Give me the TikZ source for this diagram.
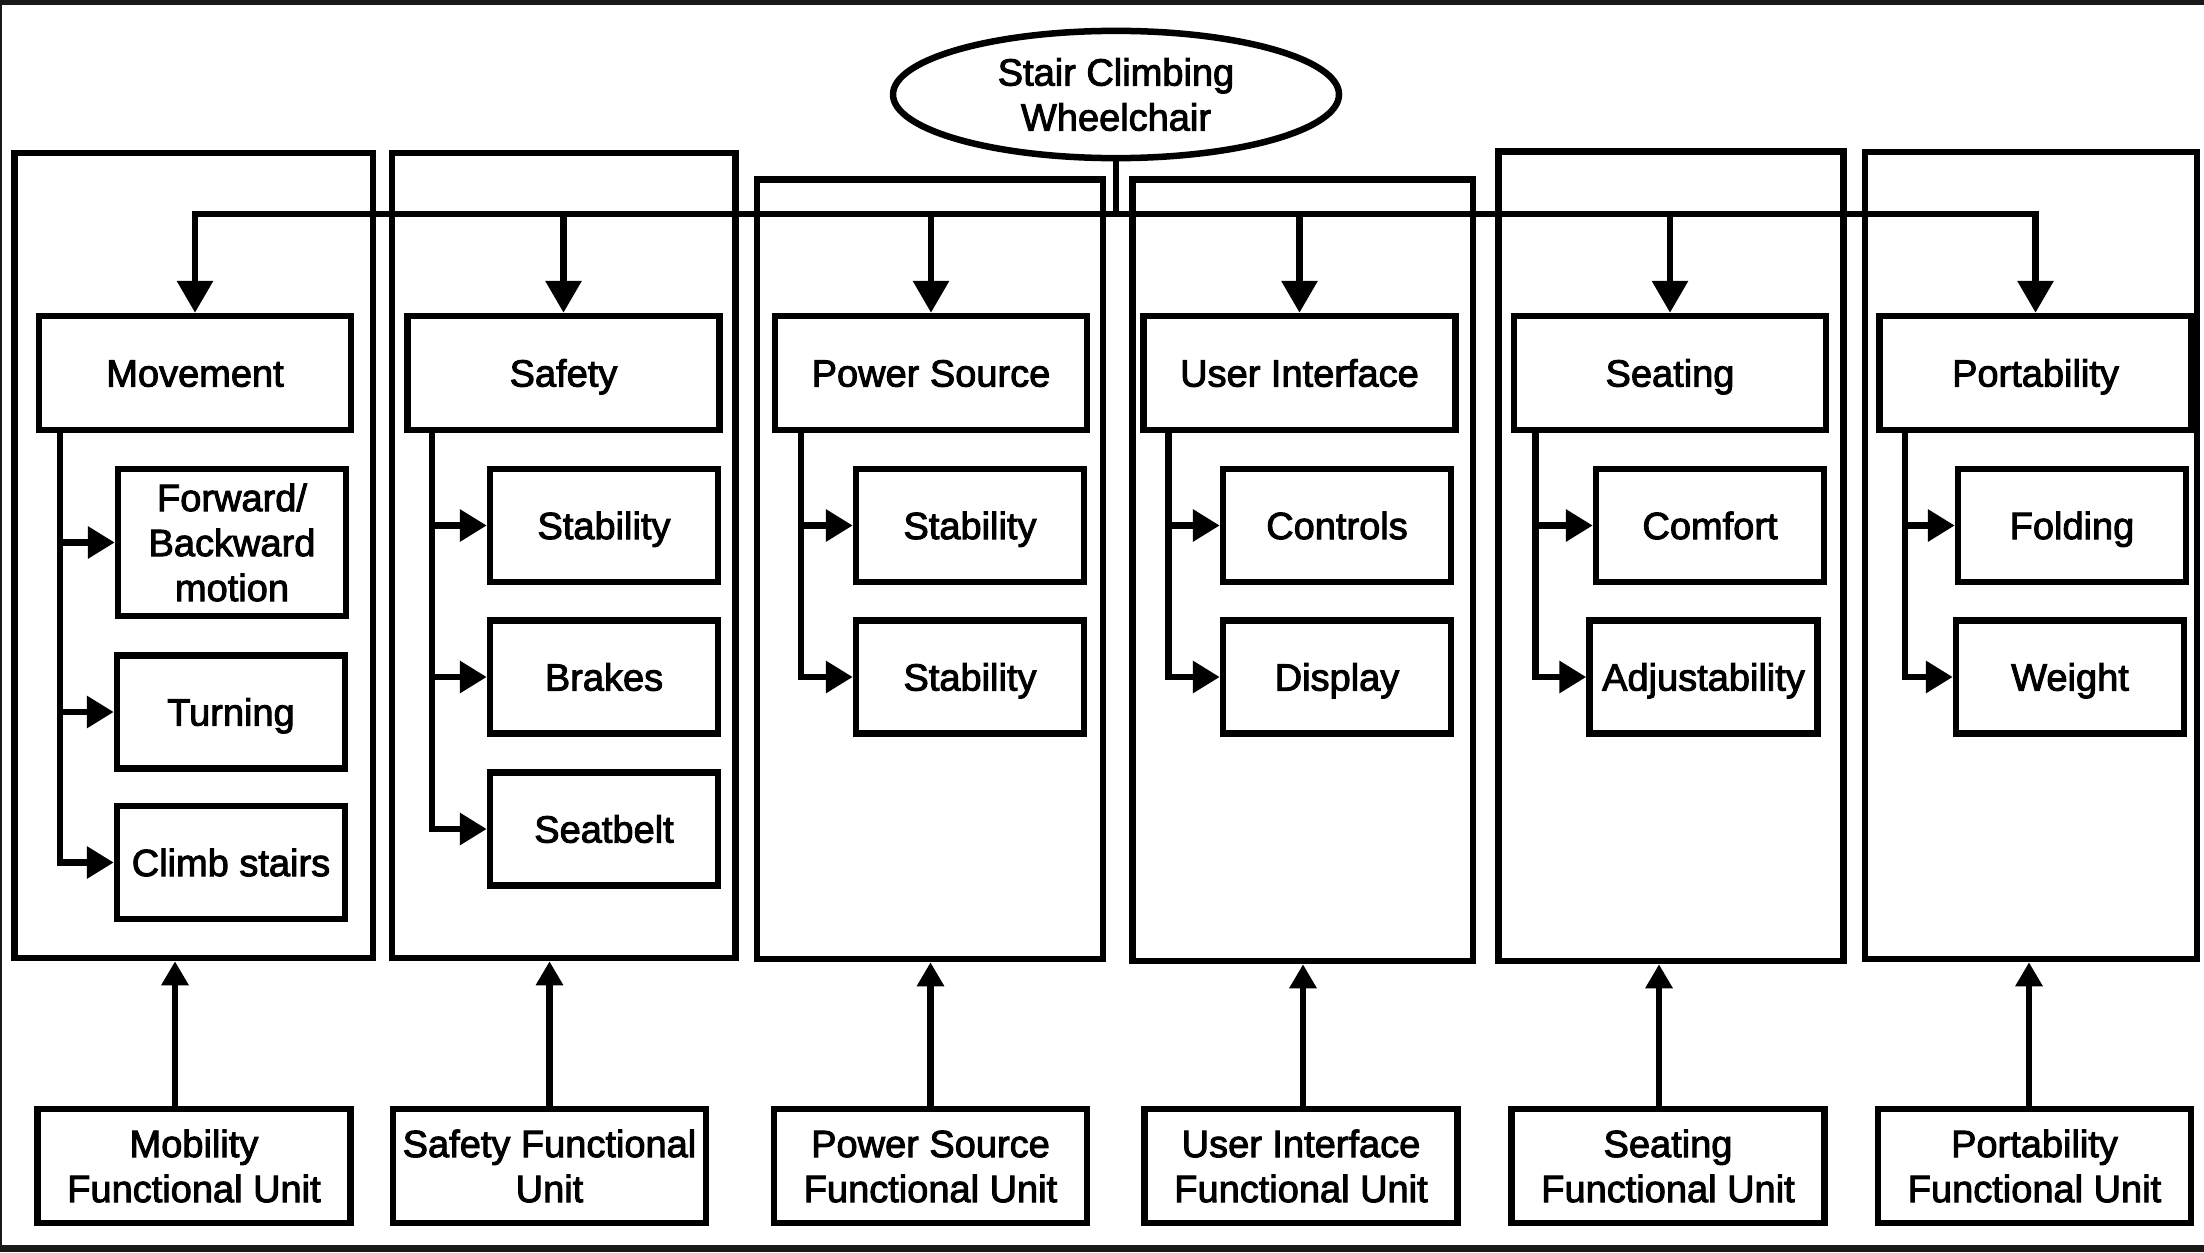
\documentclass[tikz,border=0pt]{standalone}
\usepackage{fontspec}
\setmainfont{Liberation Sans}
\newfontfamily\labfont{Liberation Sans}[BoldFont={Liberation Sans}, BoldFeatures={FakeBold=2.5}]
\usetikzlibrary{arrows.meta,shapes.geometric}
\newcommand\mystrutx{\rule[-4.45pt]{0pt}{22.5pt}}
\begin{document}
\begin{tikzpicture}[x=0.5pt,y=-0.5pt,
  lw/.style={line width=3.25pt},
  txt/.style={align=center, inner sep=0pt, font=\labfont\bfseries\fontsize{19}{22.5}\selectfont,
    execute at begin node=\mystrutx, execute at end node=\mystrutx},
  box/.style={draw, lw, txt},
  hdr/.style={box, minimum width=156pt, minimum height=57pt},
  sub/.style={box, minimum width=114pt, minimum height=56.5pt},
  fu/.style={box, minimum width=156.5pt, minimum height=57pt},
  cont/.style={draw, lw, inner sep=0pt},
  topar/.style={lw, -{Triangle[length=16pt,width=17.5pt]}},
  brar/.style={lw, -{Triangle[length=13.5pt,width=15.5pt]}},
  upar/.style={lw, -{Triangle[length=12pt,width=13pt]}},
  edge/.style={fill=black!90, draw=none}
]
\useasboundingbox (0,0) rectangle (2204,1252);
\fill[white] (0,0) rectangle (2204,1252);
% outer frame
\fill[edge] (0,0) rectangle (2204,5.5);
\fill[edge] (0,1245) rectangle (2204,1252);
\fill[edge] (0,0) rectangle (1.5,1252);

% containers
\node[cont, minimum width=179.25pt, minimum height=402.5pt] (c1) at (193.75,555.5) {};
\node[cont, minimum width=171.75pt, minimum height=402.5pt] (c2) at (563.75,555.5) {};
\node[cont, minimum width=173pt, minimum height=389.75pt] (c3) at (930,569.25) {};
\node[cont, minimum width=170.25pt, minimum height=390.75pt] (c4) at (1302.75,570.25) {};
\node[cont, minimum width=172.5pt, minimum height=404.75pt] (c5) at (1671,556.25) {};
\node[cont, minimum width=166pt, minimum height=403.5pt] (c6) at (2031,555.5) {};

% root
\node[draw, lw, ellipse, minimum width=223pt, minimum height=56pt, txt] (root) at (1116,94.5) {\mystrutx Stair Climbing\\Wheelchair};

% headers
\node[hdr] (h1) at (195,373) {Movement};
\node[hdr] (h2) at (563.5,373) {Safety};
\node[hdr] (h3) at (931,373) {Power Source};
\node[hdr] (h4) at (1299.5,373) {User Interface};
\node[hdr] (h5) at (1670,373) {Seating};
\node[hdr] (h6) at (2035.5,373) {Portability};

% sub boxes
\node[sub, minimum height=73.5pt] (s11) at (232,542.5) {\mystrutx Forward/\\Backward\\motion};
\node[sub] (s12) at (231,712) {Turning};
\node[sub] (s13) at (231,862.5) {Climb stairs};
\node[sub] (s21) at (604,525.5) {Stability};
\node[sub] (s22) at (604,677) {Brakes};
\node[sub] (s23) at (604,829) {Seatbelt};
\node[sub] (s31) at (970,525.5) {Stability};
\node[sub] (s32) at (970,677) {Stability};
\node[sub] (s41) at (1337,525.5) {Controls};
\node[sub] (s42) at (1337,677) {Display};
\node[sub] (s51) at (1710,525.5) {Comfort};
\node[sub] (s52) at (1703.5,677) {Adjustability};
\node[sub] (s61) at (2072,525.5) {Folding};
\node[sub] (s62) at (2070,677) {Weight};

% functional units
\node[fu] (f1) at (194,1166) {\mystrutx Mobility\\Functional Unit};
\node[fu] (f2) at (549.5,1166) {\mystrutx Safety Functional\\Unit};
\node[fu] (f3) at (930.5,1166) {\mystrutx Power Source\\Functional Unit};
\node[fu] (f4) at (1301,1166) {\mystrutx User Interface\\Functional Unit};
\node[fu] (f5) at (1668,1166) {\mystrutx Seating\\Functional Unit};
\node[fu] (f6) at (2034.5,1166) {\mystrutx Portability\\Functional Unit};

% bus from root
\coordinate (bus) at (1117,214);
\draw[lw] (root.south) -- (root.south |- bus);
\draw[lw, {Triangle[length=16pt,width=17.5pt]}-{Triangle[length=16pt,width=17.5pt]}]
  (h1.north) -- (h1.north |- bus) -- (h6.north |- bus) -- (h6.north);
\foreach \h in {h2,h3,h4,h5} \draw[topar] (\h.north |- bus) -- (\h.north);

% trunks
\coordinate (t1) at (60,0);
\coordinate (t2) at (432,0);
\coordinate (t3) at (801,0);
\coordinate (t4) at (1168.5,0);
\coordinate (t5) at (1535.5,0);
\coordinate (t6) at (1905,0);

\draw[brar] (h1.south -| t1) |- (s13.west);
\draw[brar] (t1 |- s11.west) -- (s11.west);
\draw[brar] (t1 |- s12.west) -- (s12.west);

\draw[brar] (h2.south -| t2) |- (s23.west);
\draw[brar] (t2 |- s21.west) -- (s21.west);
\draw[brar] (t2 |- s22.west) -- (s22.west);

\draw[brar] (h3.south -| t3) |- (s32.west);
\draw[brar] (t3 |- s31.west) -- (s31.west);

\draw[brar] (h4.south -| t4) |- (s42.west);
\draw[brar] (t4 |- s41.west) -- (s41.west);

\draw[brar] (h5.south -| t5) |- (s52.west);
\draw[brar] (t5 |- s51.west) -- (s51.west);

\draw[brar] (h6.south -| t6) |- (s62.west);
\draw[brar] (t6 |- s61.west) -- (s61.west);

% up arrows from functional units
\draw[upar] ([xshift=-9.5pt]f1.north) -- ([xshift=-9.5pt]f1.north |- c1.south);
\draw[upar] (f2.north) -- (f2.north |- c2.south);
\draw[upar] (f3.north) -- (f3.north |- c3.south);
\draw[upar] ([xshift=1pt]f4.north) -- ([xshift=1pt]f4.north |- c4.south);
\draw[upar] ([xshift=-4.5pt]f5.north) -- ([xshift=-4.5pt]f5.north |- c5.south);
\draw[upar] ([xshift=-2.75pt]f6.north) -- ([xshift=-2.75pt]f6.north |- c6.south);
\end{tikzpicture}
\end{document}
